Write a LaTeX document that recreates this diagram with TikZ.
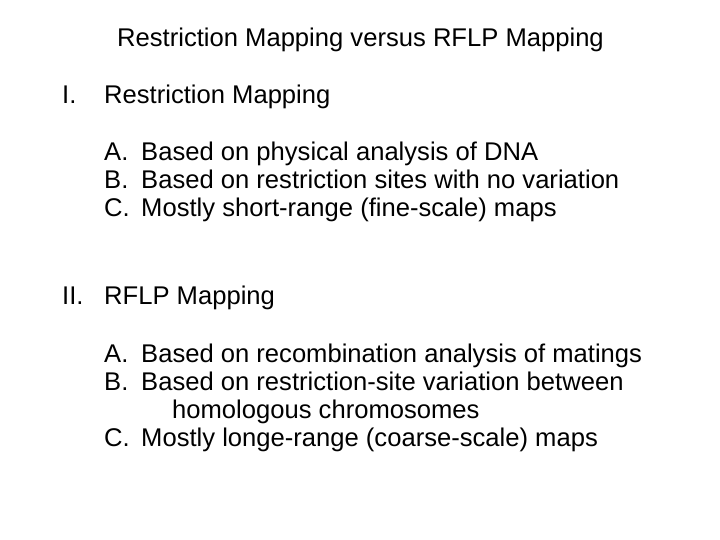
\documentclass[tikz,border=0pt]{standalone}
\usepackage{fontspec}
\setmainfont{Liberation Sans}
\begin{document}
\begin{tikzpicture}[x=1pt,y=-1pt,txt/.style={anchor=base west,inner sep=0pt,font=\fontsize{25.6}{28}\selectfont}]
\useasboundingbox (0,0) rectangle (720,540);
\node[txt] (t) at (117,47) {Restriction Mapping versus RFLP Mapping};
\node[txt] (i) at (62,104) {I.};
\node[txt] (ih) at (104,104) {Restriction Mapping};
\node[txt] (ia) at (104,161) {A.};
\node[txt] (iat) at (141,161) {Based on physical analysis of DNA};
\node[txt] (ib) at (104,189) {B.};
\node[txt] (ibt) at (141,189) {Based on restriction sites with no variation};
\node[txt] (ic) at (104,217) {C.};
\node[txt] (ict) at (141,217) {Mostly short-range (fine-scale) maps};
\node[txt] (ii) at (62,304) {II.};
\node[txt] (iih) at (104,304) {RFLP Mapping};
\node[txt] (iia) at (104,362) {A.};
\node[txt] (iiat) at (141,362) {Based on recombination analysis of matings};
\node[txt] (iib) at (104,390) {B.};
\node[txt] (iibt) at (141,390) {Based on restriction-site variation between};
\node[txt] (iibt2) at (172,418) {homologous chromosomes};
\node[txt] (iic) at (104,446) {C.};
\node[txt] (iict) at (141,446) {Mostly longe-range (coarse-scale) maps};
\end{tikzpicture}
\end{document}
